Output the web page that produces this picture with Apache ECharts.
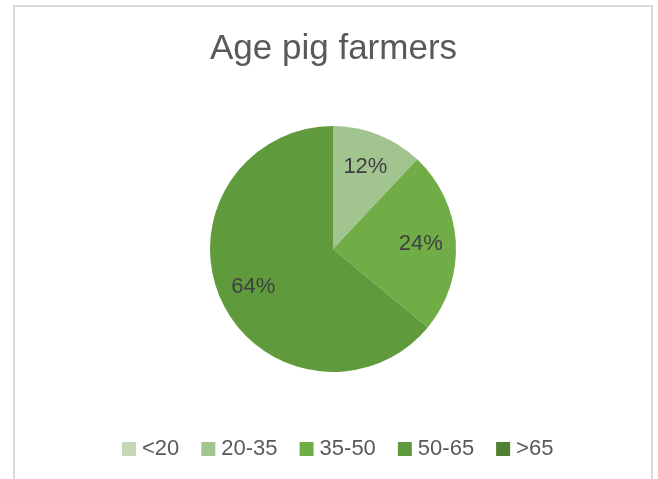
<!DOCTYPE html>
<html>
<head>
<meta charset="utf-8">
<script src="https://cdn.jsdelivr.net/npm/echarts@6/dist/echarts.min.js"></script>
<style>
html,body{margin:0;padding:0;background:#fff;}
#frame{position:absolute;left:13px;top:5px;width:636px;height:480px;border:2px solid #d9d9d9;border-bottom:none;}
#chart{position:absolute;left:0;top:0;width:658px;height:479px;}
</style>
</head>
<body>
<div id="frame"></div>
<div id="chart"></div>
<script>
const titleText = 'Age pig farmers';
const categories = ['<20', '20-35', '35-50', '50-65', '>65'];
const values = [0, 12, 24, 64, 0];
const colors = ['#c5d9b8', '#a2c58f', '#70ad47', '#5f9b3c', '#4f7f32'];

const data = categories.map((c, i) => ({ name: c, value: values[i] }));
const fmt = p => p.value === 0 ? '' : Math.round(p.percent) + '%';
const FONT = '"Liberation Sans", Arial, sans-serif';

const chart = echarts.init(document.getElementById('chart'), null, { renderer: 'canvas' });
chart.setOption({
  backgroundColor: 'transparent',
  color: colors,
  animation: false,
  title: {
    text: titleText,
    left: 205,
    top: 27,
    textStyle: { fontFamily: FONT, fontSize: 35, fontWeight: 'normal', color: '#595959' }
  },
  legend: {
    data: categories,
    bottom: 14,
    left: 117,
    icon: 'rect',
    itemWidth: 14,
    itemHeight: 14,
    itemGap: 22,
    textStyle: { fontFamily: FONT, fontSize: 22, color: '#595959', padding: [0, 0, 0, 1] }
  },
  series: [
    {
      type: 'pie',
      center: [333, 249],
      radius: [0, 123],
      startAngle: 90,
      clockwise: true,
      data: data,
      label: { show: false },
      labelLine: { show: false },
      itemStyle: { borderWidth: 0 },
      emphasis: { disabled: true }
    },
    {
      type: 'pie',
      center: [333, 249],
      radius: [0, 170],
      startAngle: 90,
      clockwise: true,
      data: data,
      silent: true,
      itemStyle: { color: 'rgba(0,0,0,0)', borderWidth: 0 },
      label: {
        show: true,
        position: 'inside',
        formatter: fmt,
        fontFamily: FONT,
        fontSize: 22,
        color: '#404040',
        padding: [9, 0, 0, 0]
      },
      labelLine: { show: false },
      emphasis: { disabled: true }
    }
  ]
});
</script>
</body>
</html>
